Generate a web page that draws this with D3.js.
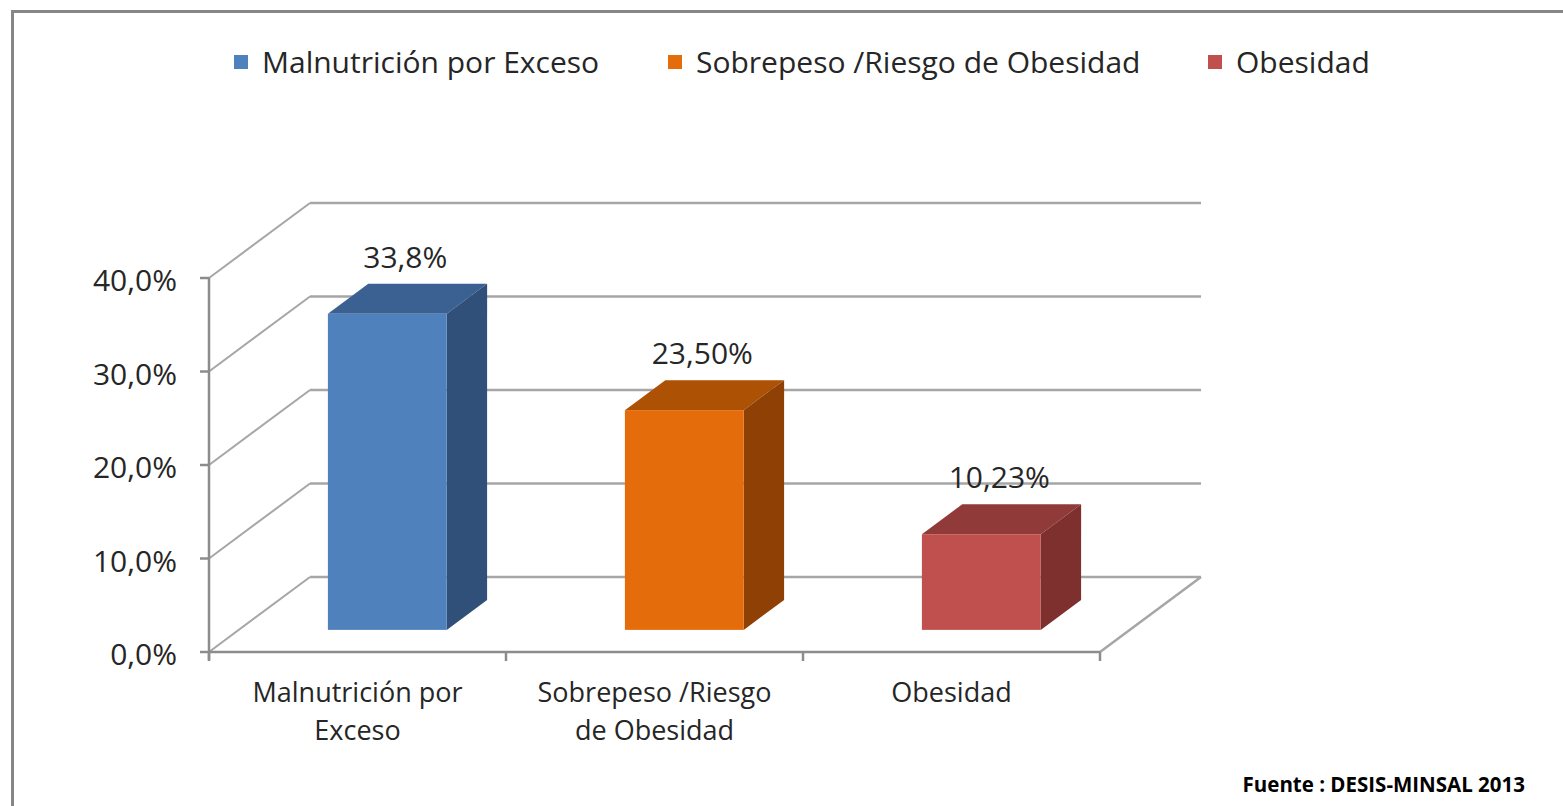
<!DOCTYPE html>
<html>
<head>
<meta charset="utf-8">
<script src="https://cdn.jsdelivr.net/npm/d3@7"></script>
<style>
  body { margin: 0; background: #fff; }
  text { font-family: "Open Sans", Lato, sans-serif; fill: #262626; }
</style>
</head>
<body>
<div id="chart"></div>
<script>
const categories = ["Malnutrición por Exceso", "Sobrepeso /Riesgo de Obesidad", "Obesidad"];
const categoryLines = [["Malnutrición por", "Exceso"], ["Sobrepeso /Riesgo", "de Obesidad"], ["Obesidad"]];
const values = [33.8, 23.5, 10.23];
const valueLabels = ["33,8%", "23,50%", "10,23%"];
const yTicks = [0, 10, 20, 30, 40];
const yTickLabels = ["0,0%", "10,0%", "20,0%", "30,0%", "40,0%"];
const colors = [
  { front: "#4f81bd", top: "#3b6192", side: "#30507a" },
  { front: "#e46c0a", top: "#ad5105", side: "#8f4004" },
  { front: "#c0504d", top: "#903b39", side: "#7d302e" }
];
const source = "Fuente : DESIS-MINSAL 2013";

const W = 1563, H = 806;
const svg = d3.select("#chart").append("svg")
  .attr("width", W).attr("height", H);

// outer frame
svg.append("rect")
  .attr("x", 12.5).attr("y", 11.5)
  .attr("width", W + 20).attr("height", H + 20)
  .attr("fill", "none").attr("stroke", "#868686").attr("stroke-width", 3);

// 3d geometry
const depthX = 101, depthY = -75;
const x = d3.scaleBand().domain(categories).range([209, 1100]);
const y = d3.scaleLinear().domain([0, 40]).range([652, 278]);
const gridColor = "#a6a6a6";

const plot = svg.append("g");

// back wall gridlines + left wall diagonals
yTicks.forEach(t => {
  const yy = y(t);
  plot.append("line")
    .attr("x1", 209 + depthX).attr("y1", yy + depthY)
    .attr("x2", 1100 + depthX).attr("y2", yy + depthY)
    .attr("stroke", gridColor).attr("stroke-width", 2.5);
  plot.append("line")
    .attr("x1", 209).attr("y1", yy)
    .attr("x2", 209 + depthX).attr("y2", yy + depthY)
    .attr("stroke", gridColor).attr("stroke-width", 2);
});

// floor right edge
plot.append("line")
  .attr("x1", 1100).attr("y1", y(0))
  .attr("x2", 1100 + depthX).attr("y2", y(0) + depthY)
  .attr("stroke", gridColor).attr("stroke-width", 2.5);

// front axes
plot.append("line")
  .attr("x1", 209).attr("y1", y(40)).attr("x2", 209).attr("y2", y(0) + 8)
  .attr("stroke", "#8c8c8c").attr("stroke-width", 2.5);
plot.append("line")
  .attr("x1", 209).attr("y1", y(0)).attr("x2", 1100).attr("y2", y(0))
  .attr("stroke", "#8c8c8c").attr("stroke-width", 2.5);

// y ticks and labels
yTicks.forEach((t, i) => {
  plot.append("line")
    .attr("x1", 200).attr("x2", 209).attr("y1", y(t)).attr("y2", y(t))
    .attr("stroke", "#8c8c8c").attr("stroke-width", 2.5);
  plot.append("text")
    .attr("x", 177).attr("y", y(t) + 13)
    .attr("text-anchor", "end")
    .style("font-size", "30px")
    .text(yTickLabels[i]);
});

// x ticks
const xEdges = categories.map(c => x(c)).concat([x.range()[1]]);
xEdges.forEach(e => {
  plot.append("line")
    .attr("x1", e).attr("x2", e).attr("y1", y(0)).attr("y2", y(0) + 9)
    .attr("stroke", "#8c8c8c").attr("stroke-width", 2.5);
});

// category labels
categories.forEach((c, i) => {
  const cx = x(c) + x.bandwidth() / 2;
  categoryLines[i].forEach((ln, j) => {
    plot.append("text")
      .attr("x", cx).attr("y", 702 + j * 38)
      .attr("text-anchor", "middle")
      .style("font-size", "27px")
      .text(ln);
  });
});

// bars
const barFrac = 0.4;
const barDepth = 0.4;      // fraction of floor depth
const barStart = 0.295;    // front of bar, fraction of floor depth
const bdx = depthX * barDepth, bdy = depthY * barDepth;
categories.forEach((c, i) => {
  const ox = depthX * barStart, oy = depthY * barStart;
  const bw = x.bandwidth() * barFrac;
  const x0 = x(c) + (x.bandwidth() - bw) / 2 + ox;
  const x1 = x0 + bw;
  const yb = y(0) + oy;
  const yt = y(values[i]) + oy;
  const g = plot.append("g");
  g.append("polygon")
    .attr("points", [[x0, yt], [x1, yt], [x1 + bdx, yt + bdy], [x0 + bdx, yt + bdy]].join(" "))
    .attr("fill", colors[i].top);
  g.append("polygon")
    .attr("points", [[x1, yt], [x1 + bdx, yt + bdy], [x1 + bdx, yb + bdy], [x1, yb]].join(" "))
    .attr("fill", colors[i].side);
  g.append("rect")
    .attr("x", x0).attr("y", yt).attr("width", bw).attr("height", yb - yt)
    .attr("fill", colors[i].front);
  g.append("text")
    .attr("x", x0 + bw / 2 + 18).attr("y", yt + bdy - 16)
    .attr("text-anchor", "middle")
    .style("font-size", "30px")
    .text(valueLabels[i]);
});

// legend
const legendX = [234, 668, 1208];
categories.forEach((c, i) => {
  svg.append("rect")
    .attr("x", legendX[i]).attr("y", 55).attr("width", 14).attr("height", 14)
    .attr("fill", colors[i].front);
  svg.append("text")
    .attr("x", legendX[i] + 28).attr("y", 73)
    .style("font-size", "30px")
    .text(c);
});

// source note
svg.append("text")
  .attr("x", 1525).attr("y", 792)
  .attr("text-anchor", "end")
  .style("font-size", "20.5px").style("font-weight", "bold")
  .style("fill", "#000")
  .text(source);
</script>
</body>
</html>
